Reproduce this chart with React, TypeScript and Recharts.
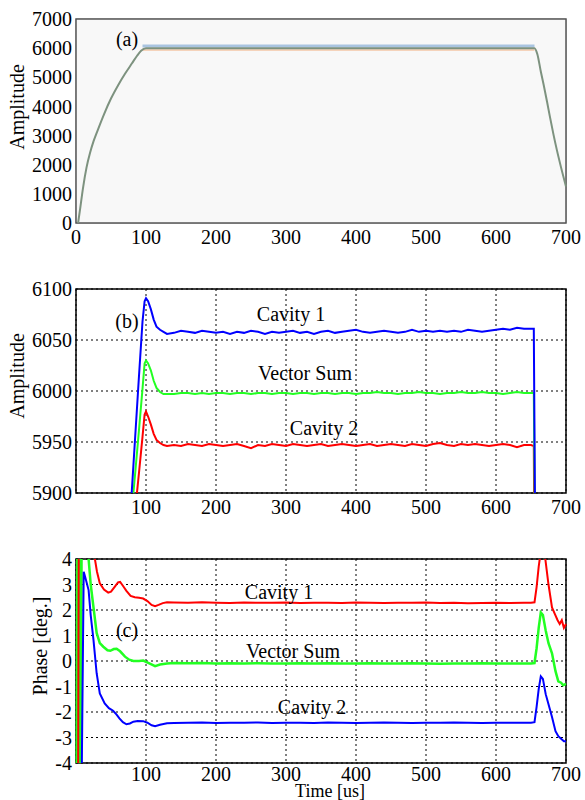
import { LineChart, Line, XAxis, YAxis, CartesianGrid, ReferenceArea } from 'recharts';

const FONT = 'Liberation Serif, DejaVu Serif, serif';

// (a) overall amplitude envelope
const envT = [3, 6, 10, 15, 20, 25, 30, 40, 50, 60, 70, 80, 87, 93, 100, 200, 300, 400, 500, 600, 655, 659, 664, 668, 673, 677, 682, 687, 693, 700];
const envV = [0, 500, 1200, 1900, 2400, 2800, 3120, 3730, 4270, 4720, 5120, 5480, 5730, 5910, 6000, 6000, 6000, 6000, 6000, 6000, 6000, 5800, 5200, 4750, 4150, 3650, 3050, 2500, 1900, 1250];
const envBandT = [95, 655];
const envHi = [6070, 6070];
const envLo = [5950, 5950];

// (b) amplitude zoom, shared time base
const ampT = [70, 80, 85, 90, 95, 98, 100, 103, 107, 111, 115, 120, 125, 130,
  140, 150, 160, 170, 180, 190, 200, 210, 220, 230,
  240, 250, 260, 270, 280, 290, 300, 310, 320, 330,
  340, 350, 360, 370, 380, 390, 400, 410, 420, 430,
  440, 450, 460, 470, 480, 490, 500, 510, 520, 530,
  540, 550, 560, 570, 580, 590, 600, 610, 620, 630,
  640, 650, 654, 657, 660];
const cav1Amp = [5800, 5905, 5960, 6015, 6068, 6088, 6091, 6088, 6080, 6070, 6063, 6060, 6058, 6056,
  6057, 6059, 6058, 6057, 6059, 6058, 6057, 6058, 6056, 6058,
  6057, 6059, 6058, 6056, 6058, 6057, 6058, 6059, 6057, 6058,
  6056, 6058, 6059, 6057, 6058, 6059, 6060, 6058, 6057, 6058,
  6059, 6058, 6057, 6058, 6060, 6058, 6059, 6058, 6059, 6058,
  6059, 6058, 6060, 6059, 6058, 6059, 6060, 6061, 6060, 6062,
  6061, 6061, 6061, 5750, 5650];
const vsumAmp = [5800, 5885, 5923, 5962, 6002, 6027, 6030, 6027, 6020, 6010, 6003, 5999, 5997, 5997,
  5997, 5998, 5998, 5997, 5998, 5997, 5998, 5998, 5997, 5998,
  5998, 5997, 5998, 5998, 5997, 5998, 5998, 5997, 5998, 5998,
  5997, 5998, 5998, 5997, 5998, 5998, 5997, 5998, 5998, 5999,
  5998, 5998, 5997, 5998, 5998, 5999, 5998, 5998, 5997, 5998,
  5998, 5999, 5998, 5998, 5999, 5998, 5998, 5997, 5998, 5999,
  5998, 5998, 5998, 5750, 5650];
const cav2Amp = [5780, 5850, 5886, 5920, 5955, 5977, 5980, 5975, 5967, 5958, 5952, 5949, 5947, 5946,
  5947, 5946, 5948, 5947, 5946, 5948, 5947, 5946, 5947, 5948,
  5946, 5944, 5947, 5946, 5948, 5947, 5946, 5948, 5947, 5946,
  5947, 5948, 5946, 5947, 5948, 5947, 5946, 5947, 5948, 5946,
  5947, 5948, 5947, 5946, 5948, 5947, 5946, 5948, 5949, 5947,
  5946, 5948, 5947, 5948, 5947, 5946, 5947, 5948, 5947, 5945,
  5947, 5947, 5946, 5600, 5550];

// (c) phase
const cav1PhT = [3, 4, 25, 27, 30, 34, 40, 46, 50, 55, 60, 63, 67, 72, 78, 84, 90, 96, 102, 108, 113, 118, 124, 130,
  140, 160, 180, 200, 220, 240, 260, 280, 300, 320, 340, 360, 380, 400, 420, 440, 460, 480, 500, 520, 540, 560, 580, 600, 620, 640,
  650, 655, 658, 661, 664, 667, 670, 675, 680, 684, 688, 691, 694, 697, 700];
const cav1PhV = [-5, 5, 4.3, 4.0, 3.5, 3.05, 2.8, 2.68, 2.72, 2.9, 3.08, 3.1, 2.95, 2.75, 2.55, 2.5, 2.48, 2.45, 2.35, 2.2, 2.15, 2.2, 2.27, 2.3,
  2.29, 2.28, 2.3, 2.28, 2.27, 2.29, 2.28, 2.28, 2.29, 2.27, 2.28, 2.28, 2.27, 2.29, 2.28, 2.27, 2.28, 2.28, 2.29, 2.27, 2.28, 2.26, 2.27, 2.28, 2.27, 2.28,
  2.28, 2.3, 2.9, 3.7, 4.3, 4.5, 4.1, 3.0, 2.1, 1.85, 1.6, 1.45, 1.6, 1.3, 1.45];

const vsumPhT = [1, 2, 3, 4, 5, 6, 7, 8, 14, 18, 21, 25, 29.5, 34, 39, 45, 49, 54, 58, 63, 70, 76, 82, 90, 96, 104, 113, 120, 130,
  140, 160, 180, 200, 220, 240, 260, 280, 300, 320, 340, 360, 380, 400, 420, 440, 460, 480, 500, 520, 540, 560, 580, 600, 620, 640,
  650, 655, 658, 661, 664, 667, 671, 675, 680, 685, 689, 693, 696, 700];
const vsumPhV = [-5, 5, -5, 5, -5, 5, -5, 5, 5, 4, 3.0, 2.1, 1.1, 0.7, 0.56, 0.42, 0.4, 0.47, 0.48, 0.38, 0.17, 0.05, 0.0, 0.0, 0.02, -0.08, -0.2, -0.14, -0.1,
  -0.08, -0.09, -0.08, -0.1, -0.09, -0.1, -0.09, -0.1, -0.1, -0.09, -0.1, -0.09, -0.1, -0.1, -0.09, -0.1, -0.1, -0.09, -0.1, -0.11, -0.1, -0.1, -0.09, -0.1, -0.1, -0.1,
  -0.1, -0.08, 0.5, 1.3, 1.9, 1.8, 1.2, 0.7, 0.3, -0.4, -0.8, -0.85, -0.95, -0.9];

const cav2PhT = [8, 11, 13, 18, 21, 25, 29.5, 34, 41, 47, 53, 58, 62, 67, 72, 77, 82, 88, 96, 102, 108, 113, 120, 130,
  140, 160, 180, 200, 220, 240, 260, 280, 300, 320, 340, 360, 380, 400, 420, 440, 460, 480, 500, 520, 540, 560, 580, 600, 620, 640,
  650, 655, 658, 661, 664, 667, 671, 675, 680, 685, 689, 693, 697, 700];
const cav2PhV = [-5, 3.5, 3.3, 2.78, 1.8, 0.82, -0.48, -1.27, -1.66, -1.85, -1.95, -2.1, -2.25, -2.4, -2.48, -2.45, -2.38, -2.35, -2.36, -2.42, -2.52, -2.56, -2.5, -2.44,
  -2.43, -2.42, -2.41, -2.43, -2.42, -2.42, -2.41, -2.43, -2.42, -2.42, -2.43, -2.41, -2.42, -2.43, -2.42, -2.41, -2.42, -2.43, -2.42, -2.42, -2.41, -2.42, -2.43, -2.42, -2.42, -2.42,
  -2.42, -2.4, -1.8, -1.1, -0.6, -0.7, -1.3, -1.7, -2.2, -2.75, -2.95, -3.05, -3.15, -3.15];

const ticksA = [0, 100, 200, 300, 400, 500, 600, 700];
const ticksBC = [100, 200, 300, 400, 500, 600, 700];
const ampATicks = [0, 1000, 2000, 3000, 4000, 5000, 6000, 7000];
const ampBTicks = [5900, 5950, 6000, 6050, 6100];
const phaseTicks = [-4, -3, -2, -1, 0, 1, 2, 3, 4];

const pts = (t: number[], v: number[]) => t.map((x, i) => ({ t: x, v: v[i] }));

const envData = pts(envT, envV);
const envHiData = pts(envBandT, envHi);
const envLoData = pts(envBandT, envLo);
const ampData = ampT.map((x, i) => ({ t: x, c1: cav1Amp[i], vs: vsumAmp[i], c2: cav2Amp[i] }));
const cav1PhData = pts(cav1PhT, cav1PhV);
const vsumPhData = pts(vsumPhT, vsumPhV);
const cav2PhData = pts(cav2PhT, cav2PhV);

const tick = { fill: '#000', fontSize: 20, fontFamily: FONT };
const margin = { top: 19, right: 19, bottom: 7, left: 0 };

function Label({ x, y, text, rotate, size = 20, lh = 1 }: { x: number; y: number; text: string; rotate?: boolean; size?: number; lh?: number }) {
  return (
    <div
      style={{
        position: 'absolute',
        left: x,
        top: y,
        transform: `translate(-50%, -50%)${rotate ? ' rotate(-90deg)' : ''}`,
        fontFamily: FONT,
        fontSize: size,
        lineHeight: lh,
        whiteSpace: 'nowrap',
        color: '#000',
      }}
    >
      {text}
    </div>
  );
}

export default function App() {
  return (
    <div style={{ position: 'absolute', left: 0, top: 0, width: 585, height: 800, background: '#fff', overflow: 'hidden' }}>
      {/* (a) */}
      <div style={{ position: 'absolute', left: 0, top: 0 }}>
        <LineChart width={585} height={260} margin={margin}>
          <ReferenceArea x1={0} x2={700} y1={0} y2={7000} fill="#f8f8f8" fillOpacity={1} stroke="#555" strokeWidth={1.5} ifOverflow="visible" />
          <CartesianGrid stroke="#cfcfcf" strokeWidth={1.5} />
          <XAxis dataKey="t" type="number" domain={[0, 700]} ticks={ticksA} interval={0} tick={tick} tickSize={0} tickMargin={7} axisLine={false} tickLine={false} height={30} allowDuplicatedCategory={false} />
          <YAxis type="number" domain={[0, 7000]} ticks={ampATicks} interval={0} tick={tick} tickSize={0} tickMargin={4} axisLine={false} tickLine={false} width={76} allowDataOverflow />
          <Line data={envHiData} dataKey="v" stroke="#a9c4e0" strokeWidth={3} dot={false} isAnimationActive={false} />
          <Line data={envLoData} dataKey="v" stroke="#f5d3bb" strokeWidth={3} dot={false} isAnimationActive={false} />
          <Line data={envData} dataKey="v" stroke="#7d927f" strokeWidth={2} dot={false} isAnimationActive={false} type="monotone" />
        </LineChart>
      </div>

      {/* (b) */}
      <div style={{ position: 'absolute', left: 0, top: 270 }}>
        <LineChart width={585} height={260} margin={margin} data={ampData}>
          <CartesianGrid stroke="#000" strokeDasharray="2 3" />
          <ReferenceArea x1={0} x2={700} y1={5900} y2={6100} fill="none" stroke="#000" strokeWidth={1.5} ifOverflow="visible" />
          <XAxis dataKey="t" type="number" domain={[0, 700]} ticks={ticksBC} interval={0} tick={tick} tickSize={0} tickMargin={7} axisLine={false} tickLine={false} height={30} />
          <YAxis type="number" domain={[5900, 6100]} ticks={ampBTicks} interval={0} tick={tick} tickSize={0} tickMargin={4} axisLine={false} tickLine={false} width={76} allowDataOverflow />
          <Line dataKey="c2" stroke="#ff0000" strokeWidth={2} dot={false} isAnimationActive={false} />
          <Line dataKey="vs" stroke="#22ff22" strokeWidth={2} dot={false} isAnimationActive={false} />
          <Line dataKey="c1" stroke="#0000ff" strokeWidth={2} dot={false} isAnimationActive={false} />
        </LineChart>
      </div>

      {/* (c) */}
      <div style={{ position: 'absolute', left: 0, top: 540 }}>
        <LineChart width={585} height={260} margin={margin}>
          <CartesianGrid stroke="#000" strokeDasharray="2 3" />
          <ReferenceArea x1={0} x2={700} y1={-4} y2={4} fill="none" stroke="#000" strokeWidth={1.5} ifOverflow="visible" />
          <XAxis dataKey="t" type="number" domain={[0, 700]} ticks={ticksBC} interval={0} tick={tick} tickSize={0} tickMargin={4} axisLine={false} tickLine={false} height={30} allowDuplicatedCategory={false} />
          <YAxis type="number" domain={[-4, 4]} ticks={phaseTicks} interval={0} tick={tick} tickSize={0} tickMargin={4} axisLine={false} tickLine={false} width={76} allowDataOverflow />
          <Line data={vsumPhData} dataKey="v" stroke="#22ff22" strokeWidth={2.5} dot={false} isAnimationActive={false} />
          <Line data={cav1PhData} dataKey="v" stroke="#ff0000" strokeWidth={2} dot={false} isAnimationActive={false} />
          <Line data={cav2PhData} dataKey="v" stroke="#0000ff" strokeWidth={2} dot={false} isAnimationActive={false} />
        </LineChart>
      </div>

      <Label x={17} y={107} text="Amplitude" rotate />
      <Label x={17} y={376} text="Amplitude" rotate />
      <Label x={40} y={646} text="Phase [deg.]" rotate />
      <Label x={330} y={792} text="Time [us]" size={18} lh={0.75} />

      <Label x={127} y={39} text="(a)" />
      <Label x={127} y={321} text="(b)" />
      <Label x={291} y={314} text="Cavity 1" />
      <Label x={305} y={373} text="Vector Sum" />
      <Label x={324} y={428} text="Cavity 2" />
      <Label x={127} y={630} text="(c)" />
      <Label x={279} y={592} text="Cavity 1" />
      <Label x={293} y={651} text="Vector Sum" />
      <Label x={312} y={707} text="Cavity 2" />
    </div>
  );
}
